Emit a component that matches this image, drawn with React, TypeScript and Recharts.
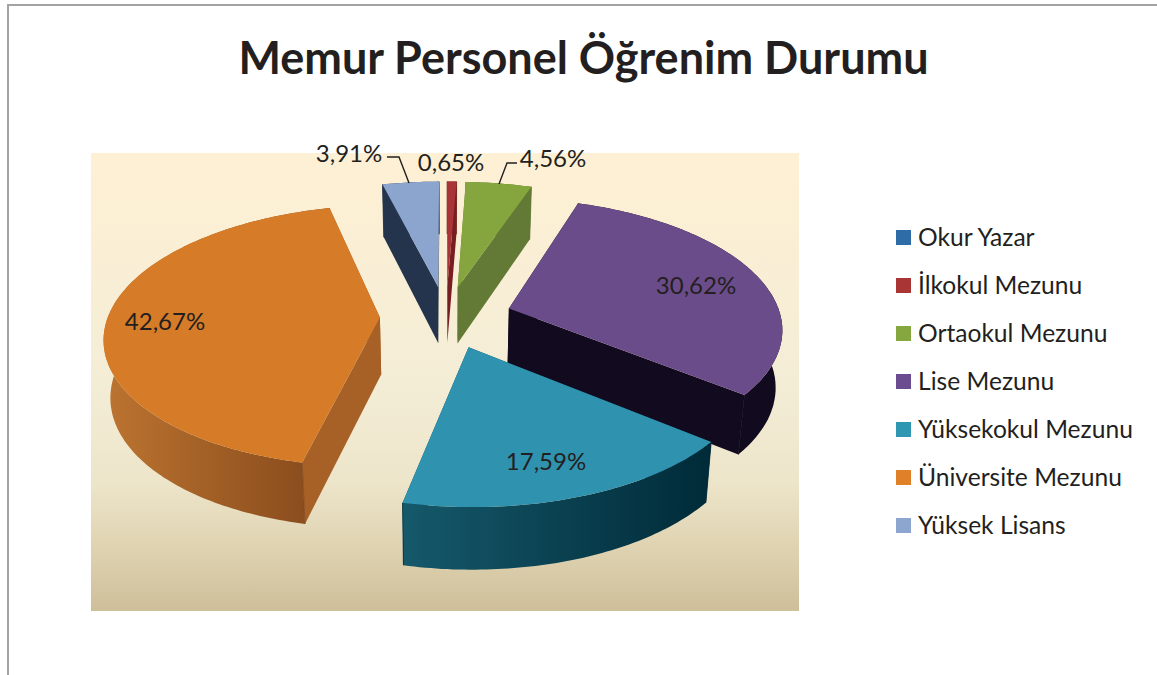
import React from 'react';
import { PieChart, Pie, Legend } from 'recharts';

const names = ['Okur Yazar', 'İlkokul Mezunu', 'Ortaokul Mezunu', 'Lise Mezunu', 'Yüksekokul Mezunu', 'Üniversite Mezunu', 'Yüksek Lisans'];
const values = [0, 0.65, 4.56, 30.62, 17.59, 42.67, 3.91];
const topColors = ['#2E6CA8', '#A93437', '#85A53F', '#6B4C8A', '#2F92AE', '#D67B28', '#8CA5CF'];
const markColors = ['#2E6CA8', '#A93535', '#86A63F', '#6B4C90', '#2F97B1', '#E08028', '#8DA6CF'];
const faceColors = ['#1F4A75', '#761E20', '#627A35', '#120A1E', '#0D4A5C', '#A76126', '#23344C'];
const rimStops = [
  ['#1F4A75', '#1F4A75'],
  ['#761E20', '#761E20'],
  ['#627A35', '#627A35'],
  ['#120A1E', '#120A1E'],
  ['#15596B', '#002A38'],
  ['#BC7430', '#84481B'],
  ['#23344C', '#23344C'],
];
const labelAnchors: [number, number][] = [[0, 0], [451, 161], [553, 157], [696, 284], [546, 460], [165, 320], [349, 152]];
const leaderPaths: Record<number, string> = {
  2: 'M517 163 L507 163 L499 184',
  6: 'M387 157 L399 157 L409 183',
};

const table = names.map((name, i) => ({ name, value: values[i], fill: topColors[i] }));

const CX = 446;
const CY = 317;
const RADIUS = 272;
const EXPLODE = 0.243;
const PERSP = 0.14;
const Y_SCALE = 128;
const DEPTH = 57;
const LOWER_X = 0.98;
const FONT = 'Lato, Carlito, "Open Sans", sans-serif';
const TEXT_COLOR = '#231F20';

function project(x: number, y: number, lower: boolean, r: number, cx: number, cy: number) {
  const w = 1 + PERSP * y;
  const dx = (r * x) / w;
  const dy = (-Y_SCALE * y) / w;
  if (!lower) return [cx + dx, cy + dy];
  return [cx + dx * LOWER_X, cy + dy + DEPTH / Math.pow(w, 0.5)];
}

const toPath = (pts: number[][]) => 'M' + pts.map((p) => p[0].toFixed(1) + ' ' + p[1].toFixed(1)).join(' L') + ' Z';

function Slice3D(props: any) {
  const { startAngle, endAngle, cx, cy, outerRadius, index } = props;
  const a0 = 90 - startAngle;
  const a1 = 90 - endAngle;
  if (Math.abs(a1 - a0) < 0.01) return null;
  const mid = (((a0 + a1) / 2) * Math.PI) / 180;
  const ex = Math.sin(mid) * EXPLODE;
  const ey = Math.cos(mid) * EXPLODE;
  const steps = Math.max(2, Math.ceil(Math.abs(a1 - a0)));
  const rim = (lower: boolean) => {
    const pts: number[][] = [];
    for (let i = 0; i <= steps; i++) {
      const t = ((a0 + ((a1 - a0) * i) / steps) * Math.PI) / 180;
      pts.push(project(ex + Math.sin(t), ey + Math.cos(t), lower, outerRadius, cx, cy));
    }
    return pts;
  };
  const upper = rim(false);
  const lower = rim(true);
  const apexU = project(ex, ey, false, outerRadius, cx, cy);
  const apexL = project(ex, ey, true, outerRadius, cx, cy);
  const gid = 'rim-' + index;
  const face = faceColors[index];
  const first = [apexU, upper[0], lower[0], apexL];
  const last = [apexU, upper[steps], lower[steps], apexL];
  return (
    <g>
      <defs>
        <linearGradient id={gid} x1="0" y1="0" x2="1" y2="0">
          <stop offset="0" stopColor={rimStops[index][0]} />
          <stop offset="1" stopColor={rimStops[index][1]} />
        </linearGradient>
      </defs>
      <path d={toPath(first)} fill={face} />
      <path d={toPath(last)} fill={face} />
      <path d={toPath([...upper, ...lower.slice().reverse()])} fill={`url(#${gid})`} />
      <path d={`M${upper[0][0]} ${upper[0][1]} L${lower[0][0]} ${lower[0][1]}`} stroke={rimStops[index][1]} strokeWidth={0.8} fill="none" />
      <path d={`M${upper[steps][0]} ${upper[steps][1]} L${lower[steps][0]} ${lower[steps][1]}`} stroke={rimStops[index][1]} strokeWidth={0.8} fill="none" />
      <path d={toPath([apexU, ...upper])} fill={topColors[index]} />
    </g>
  );
}

function SliceLabel(props: any) {
  const { index, value } = props;
  if (!value) return null;
  const [x, y] = labelAnchors[index];
  const text = Number(value).toFixed(2).replace('.', ',') + '%';
  return (
    <g>
      {leaderPaths[index] ? <path d={leaderPaths[index]} fill="none" stroke={TEXT_COLOR} strokeWidth={1.4} /> : null}
      <text x={x} y={y} textAnchor="middle" dominantBaseline="central" fontFamily={FONT} fontSize={24} fill={TEXT_COLOR}>
        {text}
      </text>
    </g>
  );
}

function LegendList() {
  return (
    <div style={{ fontFamily: FONT, fontSize: 24.6, color: TEXT_COLOR }}>
      {names.map((n, i) => (
        <div key={n} style={{ position: 'absolute', left: 0, top: 48.1 * i, height: 24, display: 'flex', alignItems: 'center', whiteSpace: 'nowrap' }}>
          <span style={{ display: 'inline-block', width: 15, height: 15, background: markColors[i], marginRight: 7 }} />
          <span style={{ position: 'relative', top: -1 }}>{n}</span>
        </div>
      ))}
    </div>
  );
}

export default function App() {
  return (
    <div style={{ position: 'absolute', left: 0, top: 0, width: 1157, height: 675, background: '#fff' }}>
      <PieChart width={1157} height={675} margin={{ top: 0, right: 0, bottom: 0, left: 0 }}>
        <defs>
          <linearGradient id="plotBg" x1="0" y1="0" x2="0" y2="1">
            <stop offset="0" stopColor="#FEF0D4" />
            <stop offset="0.5" stopColor="#F4EDD6" />
            <stop offset="0.72" stopColor="#EDE5CA" />
            <stop offset="0.88" stopColor="#DDD0AE" />
            <stop offset="1" stopColor="#CEBF9A" />
          </linearGradient>
        </defs>
        <rect x={7} y={4} width={1150} height={2} fill="#A3A3A3" />
        <rect x={7} y={4} width={2} height={671} fill="#A3A3A3" />
        <rect x={91} y={153} width={708} height={458} fill="url(#plotBg)" />
        <text x={583.5} y={57} textAnchor="middle" dominantBaseline="central" fontFamily={FONT} fontWeight={700} fontSize={45} fill={TEXT_COLOR}>
          Memur Personel Öğrenim Durumu
        </text>
        <Pie
          data={table}
          dataKey="value"
          nameKey="name"
          cx={CX}
          cy={CY}
          innerRadius={0}
          outerRadius={RADIUS}
          startAngle={90}
          endAngle={-270}
          stroke="none"
          isAnimationActive={false}
          shape={Slice3D}
          label={SliceLabel}
          labelLine={false}
        />
        <Legend content={LegendList} wrapperStyle={{ position: 'absolute', left: 896, top: 225, width: 255, height: 320 }} />
      </PieChart>
    </div>
  );
}
